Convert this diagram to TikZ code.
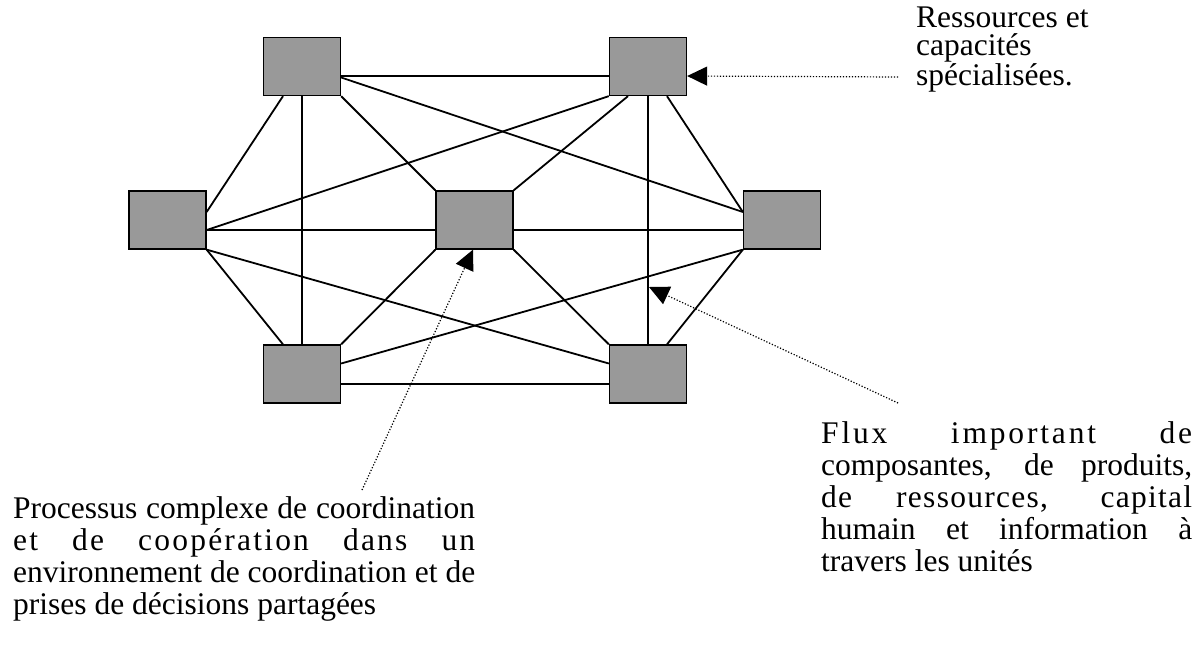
\documentclass[tikz,border=0pt]{standalone}
\usepackage{fontspec}
\setmainfont{Liberation Serif}
\usetikzlibrary{arrows.meta, positioning}
\definecolor{unitgray}{HTML}{999999}
\lineskiplimit=-100pt

\begin{document}
\begin{tikzpicture}[x=1pt, y=-1pt,
    unit/.style={draw=black, fill=unitgray, line width=1.3pt, minimum width=77pt, minimum height=58pt, inner sep=0pt},
    link/.style={line width=1.8pt},
    pointer/.style={line width=1.2pt, dash pattern=on 1.2pt off 1.8pt, -{Triangle[length=20pt,width=19pt]}},
    note/.style={anchor=base west, inner sep=0pt}]
    \useasboundingbox (0,0) rectangle (1204,654);

    % Units of the network
    \node[unit] (tl) at (302,66.5) {};
    \node[unit] (tr) at (648,66.5) {};
    \node[unit] (l) at (167.5,220) {};
    \node[unit] (c) at (474.5,220) {};
    \node[unit] (r) at (782,220) {};
    \node[unit] (bl) at (302,374) {};
    \node[unit] (br) at (648,374) {};

    % Links from the top units
    \draw[link] ([yshift=-9.5pt]tl.east) -- ([yshift=-9.5pt]tr.west);
    \draw[link] ([yshift=-11pt]tl.east) -- ([yshift=8pt]r.west);
    \draw[link] ([xshift=-19pt]tl.south) -- ([yshift=8pt]l.east);
    \draw[link] (tl.south) -- (bl.north);
    \draw[link] (tl.south east) -- (c.north west);
    \draw[link] ([yshift=-10pt]l.east) -- (tr.south west);
    \draw[link] ([xshift=-20pt]tr.south) -- (c.north east);
    \draw[link] (tr.south) -- (br.north);
    \draw[link] ([xshift=19pt]tr.south) -- ([yshift=8pt]r.west);

    % Links across the middle
    \draw[link] ([yshift=-10pt]l.east) -- ([yshift=-10pt]c.west);
    \draw[link] ([yshift=-10pt]c.east) -- ([yshift=-10pt]r.west);
    \draw[link] (c.south west) -- (bl.north east);
    \draw[link] (c.south east) -- (br.north west);

    % Links to the bottom units
    \draw[link] (l.south east) -- ([xshift=-19pt]bl.north);
    \draw[link] (l.south east) -- ([yshift=10.5pt]br.west);
    \draw[link] (r.south west) -- ([yshift=10.5pt]bl.east);
    \draw[link] (r.south west) -- ([xshift=19pt]br.north);
    \draw[link] ([yshift=-10pt]bl.east) -- ([yshift=-10pt]br.west);

    % Notes
    \node[note, font=\fontsize{31.5}{28.5}\selectfont] (resnote) at (916,27)
        {\parbox[t]{250pt}{\raggedright Ressources et\\ capacités\\ spécialisées.}};
    \node[note, font=\fontsize{31.5}{32}\selectfont] (fluxnote) at (821,443)
        {\parbox[t]{371pt}{%
        \makebox[\linewidth][s]{\addfontfeature{LetterSpace=9}Flux important de}\\
        \makebox[\linewidth][s]{composantes, de produits,}\\
        \makebox[\linewidth][s]{\addfontfeature{LetterSpace=4}de ressources, capital}\\
        \makebox[\linewidth][s]{humain et information à}\\
        travers les unités}};
    \node[note, font=\fontsize{31.5}{32}\selectfont] (procnote) at (13,518)
        {\parbox[t]{462pt}{%
        \makebox[\linewidth][s]{Processus complexe de coordination}\\
        \makebox[\linewidth][s]{\addfontfeature{LetterSpace=7}et de coopération dans un}\\
        \makebox[\linewidth][s]{environnement de coordination et de}\\
        prises de décisions partagées}};

    % Pointers from the notes
    \coordinate (resfoot) at (898,77);
    \coordinate (procfoot) at (362,490);
    \coordinate (fluxfoot) at (898,403);
    \coordinate (fluxtip) at (649,287);
    \draw[pointer] (resfoot) -- ([yshift=-9.5pt]tr.east);
    \draw[pointer] (procfoot) -- ([xshift=-1.5pt]c.south);
    \draw[pointer] (fluxfoot) -- (fluxtip);
\end{tikzpicture}
\end{document}
